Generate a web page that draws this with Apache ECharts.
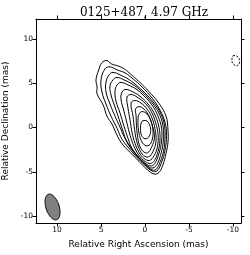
<!DOCTYPE html>
<html>
<head>
<meta charset="utf-8">
<script src="https://cdn.jsdelivr.net/npm/echarts@6/dist/echarts.min.js"></script>
<style>html,body{margin:0;padding:0;background:#fff}#c{width:250px;height:255px}</style>
</head>
<body>
<div id="c"></div>
<script>
// Tick values (mas)
const raTicks = [10, 5, 0, -5, -10];
const decTicks = [10, 5, 0, -5, -10];

// Positive contours, outer to inner: [RA offset, Dec offset] in mas
const contour1 = [[4.89,7.34],[4.32,7.57],[3.83,7.19],[2.99,6.93],[2.24,6.55],[1.67,6.06],[0.72,5.23],[-0.42,4.09],[-1.56,2.76],[-2.39,1.28],[-2.61,-0.31],[-2.61,-1.67],[-2.39,-2.92],[-2.05,-4.17],[-1.59,-5.08],[-1.02,-5.25],[-0.23,-4.74],[0.68,-3.83],[1.70,-2.81],[2.73,-1.67],[3.40,-0.40],[3.70,0.30],[4.32,1.28],[4.75,2.53],[5.45,3.80],[5.45,4.60],[5.57,5.38],[5.26,6.51]];
const contour2 = [[4.55,6.63],[3.98,6.85],[3.18,6.51],[2.27,6.17],[1.36,5.49],[0.34,4.58],[-0.80,3.33],[-1.70,1.97],[-2.27,0.60],[-2.44,-0.88],[-2.27,-2.58],[-1.88,-3.94],[-1.36,-4.91],[-0.80,-4.91],[0.00,-4.28],[0.91,-3.38],[1.82,-2.35],[2.61,-1.33],[3.18,-0.08],[3.86,1.28],[4.43,2.65],[4.89,4.01],[5.00,5.38]];
const contour3 = [[4.09,5.94],[3.64,6.23],[2.84,5.94],[1.93,5.49],[1.02,4.81],[0.00,3.90],[-1.02,2.76],[-1.82,1.51],[-2.22,0.15],[-2.27,-1.22],[-2.10,-2.69],[-1.70,-3.94],[-1.25,-4.74],[-0.68,-4.74],[0.11,-4.06],[0.91,-3.15],[1.70,-2.13],[2.39,-0.99],[2.84,0.03],[3.41,1.28],[3.98,2.65],[4.43,4.01],[4.43,5.15]];
const contour4 = [[3.64,5.38],[3.18,5.66],[2.39,5.38],[1.48,4.92],[0.57,4.24],[-0.34,3.33],[-1.25,2.19],[-1.82,1.06],[-2.10,-0.31],[-2.05,-1.78],[-1.76,-3.15],[-1.36,-4.17],[-0.91,-4.57],[-0.34,-4.40],[0.45,-3.72],[1.25,-2.81],[2.05,-1.67],[2.50,-0.42],[2.95,0.94],[3.41,2.31],[3.86,3.67],[3.98,4.69]];
const contour5 = [[3.18,4.81],[2.73,5.09],[1.93,4.81],[1.02,4.35],[0.11,3.56],[-0.80,2.53],[-1.48,1.28],[-1.88,-0.08],[-1.88,-1.55],[-1.59,-2.92],[-1.19,-3.94],[-0.74,-4.34],[-0.11,-4.11],[0.68,-3.38],[1.48,-2.35],[1.93,-1.22],[2.39,0.15],[2.84,1.63],[3.30,2.99],[3.41,4.13]];
const contour6 = [[2.61,4.01],[2.16,4.30],[1.36,4.01],[0.45,3.44],[-0.45,2.53],[-1.14,1.40],[-1.59,0.03],[-1.70,-1.44],[-1.48,-2.69],[-1.08,-3.72],[-0.63,-4.06],[0.00,-3.83],[0.68,-3.15],[1.25,-2.13],[1.70,-0.88],[2.05,0.49],[2.39,1.85],[2.73,3.22]];
const contour7 = [[2.05,3.44],[1.59,3.73],[0.91,3.44],[0.00,2.76],[-0.68,1.85],[-1.19,0.60],[-1.48,-0.76],[-1.42,-2.13],[-1.02,-3.20],[-0.51,-3.72],[0.11,-3.49],[0.68,-2.81],[1.14,-1.78],[1.48,-0.53],[1.70,0.83],[1.93,2.19]];
const contour8 = [[1.59,2.76],[1.14,3.05],[0.45,2.76],[-0.23,2.08],[-0.80,1.06],[-1.14,-0.19],[-1.25,-1.55],[-0.91,-2.69],[-0.40,-3.32],[0.17,-3.15],[0.63,-2.47],[0.97,-1.44],[1.19,-0.19],[1.36,1.28]];
const contour9 = [[1.08,2.08],[0.68,2.36],[0.11,2.08],[-0.45,1.28],[-0.85,0.15],[-1.08,-1.10],[-0.74,-2.24],[-0.28,-2.86],[0.23,-2.69],[0.63,-2.01],[0.85,-0.99],[0.97,0.26],[1.02,1.40]];
const contour10 = [[0.68,1.51],[0.34,1.80],[-0.23,1.51],[-0.68,0.72],[-0.91,-0.42],[-0.80,-1.44],[-0.45,-2.01],[0.00,-2.01],[0.45,-1.44],[0.74,-0.31],[0.80,0.83]];
const contour11 = [[0.23,0.77],[-0.23,0.72],[-0.57,0.15],[-0.63,-0.53],[-0.40,-1.10],[0.00,-1.27],[0.40,-0.88],[0.51,-0.08],[0.45,0.49]];
const positiveContours = [contour1, contour2, contour3, contour4, contour5, contour6, contour7, contour8, contour9, contour10, contour11];

// Negative (dashed) contour
const negativeContour = [[-10.00,8.10],[-10.45,8.05],[-10.74,7.65],[-10.68,7.14],[-10.34,6.97],[-9.94,7.31],[-9.89,7.82]];

// Restoring beam: centre [RA, Dec] (mas), [major, minor] FWHM (mas), position angle (deg)
const beamCenter = [10.51, -8.98];
const beamAxes = [3.03, 1.50];
const beamPA = [18];

const chart = echarts.init(document.getElementById('c'), null, {renderer: 'canvas'});

const font = 'DejaVu Sans';
function contourSeries(pts, dashed) {
  return {
    type: 'custom',
    xAxisIndex: 0, yAxisIndex: 0,
    silent: true, animation: false, clip: true,
    data: pts,
    renderItem: function (params, api) {
      if (params.dataIndex !== 0) return;
      const points = pts.map(p => api.coord(p));
      return {
        type: 'polygon',
        shape: {points: points, smooth: 0.4},
        style: {fill: 'none', stroke: '#000', lineWidth: 1, lineDash: dashed ? [2, 1.5] : null}
      };
    }
  };
}

const beamSeries = {
  type: 'custom',
  xAxisIndex: 0, yAxisIndex: 0,
  silent: true, animation: false,
  data: [beamCenter],
  renderItem: function (params, api) {
    const pa = beamPA[0] * Math.PI / 180;
    const a = beamAxes[0] / 2, b = beamAxes[1] / 2;
    const pts = [];
    for (let i = 0; i < 72; i++) {
      const t = i / 72 * 2 * Math.PI;
      const u = a * Math.sin(t), w = b * Math.cos(t);
      const ra = beamCenter[0] + u * Math.sin(pa) + w * Math.cos(pa);
      const dec = beamCenter[1] + u * Math.cos(pa) - w * Math.sin(pa);
      pts.push(api.coord([ra, dec]));
    }
    return {type: 'polygon', shape: {points: pts}, style: {fill: '#808080', stroke: '#000', lineWidth: 1}};
  }
};

const xRange = {min: -10.91, max: 12.39};
const yRange = {min: -10.79, max: 12.26};

function mkAxis(isX, primary) {
  const ticks = isX ? raTicks : decTicks;
  const r = isX ? xRange : yRange;
  const ax = {
    type: 'value',
    min: r.min, max: r.max,
    inverse: isX,
    position: isX ? (primary ? 'bottom' : 'top') : (primary ? 'left' : 'right'),
    axisLine: {show: true, onZero: false, lineStyle: {color: '#000', width: 1}},
    axisTick: {show: true, customValues: ticks, length: 3.5, inside: false, lineStyle: {color: '#000', width: 1}},
    axisLabel: {show: primary, customValues: ticks, fontSize: 7.5, fontFamily: font, color: '#000', margin: 3,
      formatter: v => String(v)},
    splitLine: {show: false}
  };
  if (primary) {
    ax.name = isX ? 'Relative Right Ascension (mas)' : 'Relative Declination (mas)';
    ax.nameLocation = 'middle';
    ax.nameGap = isX ? 17 : 25;
    ax.nameTextStyle = {fontSize: 9, fontFamily: font, color: '#000'};
  }
  return ax;
}

chart.setOption({
  animation: false,
  backgroundColor: '#fff',
  title: {
    text: '0125+487, 4.97 GHz',
    left: 139, top: 2, textAlign: 'center',
    textStyle: {fontFamily: 'DejaVu Serif', fontSize: 12, fontWeight: 'normal', color: '#000'}
  },
  grid: {left: 36, top: 19, right: 9, bottom: 32, containLabel: false, outerBoundsMode: 'none'},
  xAxis: [mkAxis(true, true), mkAxis(true, false)],
  yAxis: [mkAxis(false, true), mkAxis(false, false)],
  series: positiveContours.map(c => contourSeries(c, false))
    .concat([contourSeries(negativeContour, true), beamSeries])
});
</script>
</body>
</html>
